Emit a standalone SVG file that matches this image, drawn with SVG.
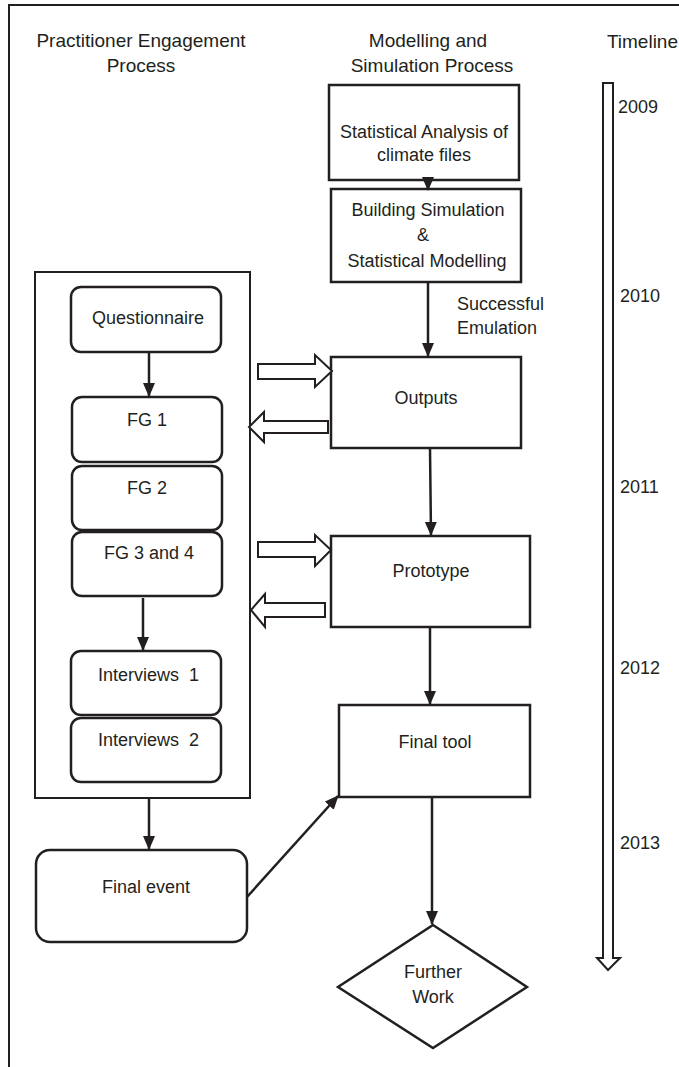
<svg xmlns="http://www.w3.org/2000/svg" width="679" height="1067" viewBox="0 0 679 1067">
<style>
text{font-family:"Liberation Sans",Arial,sans-serif;fill:#231f20;font-size:18px}
.t{font-size:19px}
.c{text-anchor:middle}
.box{fill:#fff;stroke:#231f20;stroke-width:2.5}
.frame{fill:none;stroke:#231f20;stroke-width:2}
.conn{fill:none;stroke:#231f20;stroke-width:2.5}
.block{fill:#fff;stroke:#231f20;stroke-width:2;stroke-linejoin:miter}
</style>
<defs>
<marker id="ah" markerUnits="userSpaceOnUse" markerWidth="14" markerHeight="14" viewBox="0 0 14 12" refX="13" refY="6" orient="auto">
<path d="M0,0 L14,6 L0,12 Z" fill="#231f20"/>
</marker>
</defs>
<g id="frame">
<polyline class="frame" points="9,1067 9,5 679,5"/>
</g>
<g id="headers">
<text class="t c" x="141" y="47">Practitioner Engagement</text>
<text class="t c" x="141" y="72">Process</text>
<text class="t c" x="428" y="47">Modelling and</text>
<text class="t c" x="432" y="72">Simulation Process</text>
<text class="t" x="678" y="48" text-anchor="end">Timeline</text>
</g>
<g id="timeline">
<polygon class="block" points="603,83 613,83 613,958 620,958 608,970 597,958 603,958"/>
<text x="618" y="113">2009</text>
<text x="620" y="302">2010</text>
<text x="620" y="493">2011</text>
<text x="620" y="674">2012</text>
<text x="620" y="849">2013</text>
</g>
<g id="container">
<rect class="frame" x="35" y="272" width="215" height="526"/>
</g>
<g id="stat">
<rect class="box" x="329" y="85" width="190" height="95"/>
<text class="c" x="424" y="138">Statistical Analysis of</text>
<text class="c" x="424" y="161">climate files</text>
</g>
<g id="building">
<rect class="box" x="331" y="189" width="190" height="93"/>
<text class="c" x="428" y="216">Building Simulation</text>
<text class="c" x="423" y="241">&amp;</text>
<text class="c" x="427" y="267">Statistical Modelling</text>
</g>
<g id="outputs">
<rect class="box" x="331" y="357" width="190" height="91"/>
<text class="c" x="426" y="404">Outputs</text>
</g>
<g id="prototype">
<rect class="box" x="331" y="536" width="199" height="91"/>
<text class="c" x="431" y="577">Prototype</text>
</g>
<g id="finaltool">
<rect class="box" x="339" y="705" width="191" height="92"/>
<text class="c" x="435" y="748">Final tool</text>
</g>
<g id="further">
<polygon class="box" points="433,925 527,987 433,1048 338,987"/>
<text class="c" x="433" y="978">Further</text>
<text class="c" x="433" y="1003">Work</text>
</g>
<g id="questionnaire">
<rect class="box" x="71" y="287" width="150" height="65" rx="10"/>
<text class="c" x="148" y="324">Questionnaire</text>
</g>
<g id="fg1">
<rect class="box" x="72" y="397" width="150" height="65" rx="10"/>
<text class="c" x="147" y="426">FG 1</text>
</g>
<g id="fg2">
<rect class="box" x="72" y="466" width="150" height="64" rx="10"/>
<text class="c" x="147" y="494">FG 2</text>
</g>
<g id="fg34">
<rect class="box" x="72" y="532" width="150" height="64" rx="10"/>
<text class="c" x="149" y="559">FG 3 and 4</text>
</g>
<g id="interviews1">
<rect class="box" x="71" y="651" width="150" height="64" rx="10"/>
<text x="98" y="681" xml:space="preserve">Interviews  1</text>
</g>
<g id="interviews2">
<rect class="box" x="71" y="718" width="150" height="64" rx="10"/>
<text x="98" y="746" xml:space="preserve">Interviews  2</text>
</g>
<g id="finalevent">
<rect class="box" x="36" y="850" width="211" height="92" rx="14"/>
<text class="c" x="146" y="893">Final event</text>
</g>
<g id="connectors">
<line class="conn" x1="428" y1="180" x2="428" y2="190" marker-end="url(#ah)"/>
<line class="conn" x1="428" y1="282" x2="428" y2="356" marker-end="url(#ah)"/>
<text x="457" y="310">Successful</text>
<text x="457" y="334">Emulation</text>
<line class="conn" x1="430" y1="448" x2="431" y2="535" marker-end="url(#ah)"/>
<line class="conn" x1="430" y1="627" x2="430" y2="704" marker-end="url(#ah)"/>
<line class="conn" x1="432" y1="797" x2="432" y2="924" marker-end="url(#ah)"/>
<line class="conn" x1="149" y1="352" x2="149" y2="396" marker-end="url(#ah)"/>
<line class="conn" x1="143" y1="598" x2="143" y2="650" marker-end="url(#ah)"/>
<line class="conn" x1="149" y1="797" x2="149" y2="849" marker-end="url(#ah)"/>
<line class="conn" x1="247" y1="897" x2="338" y2="796" marker-end="url(#ah)"/>
<polygon class="block" points="258,364 315,364 315,355 332,371 315,387 315,379 258,379"/>
<polygon class="block" points="328,421 264,421 264,412 249,427 264,442 264,433 328,433"/>
<polygon class="block" points="258,542 315,542 315,535 331,550 315,566 315,557 258,557"/>
<polygon class="block" points="325,603 265,603 265,594 251,610 265,627 265,617 325,617"/>
</g>
</svg>
